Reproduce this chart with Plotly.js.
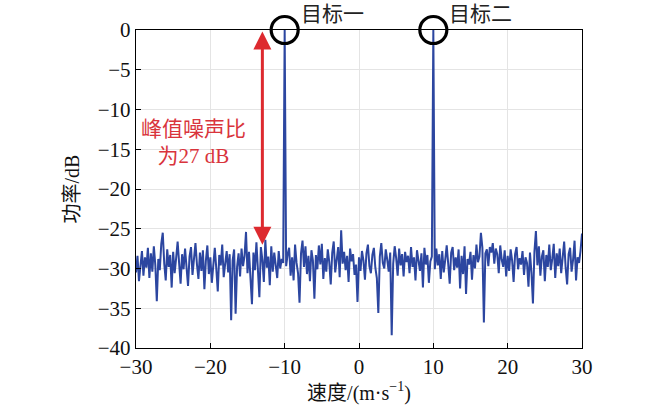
<!DOCTYPE html>
<html>
<head>
<meta charset="utf-8">
<script src="https://cdn.plot.ly/plotly-3.0.1.min.js"></script>
<style>
  html, body { margin: 0; padding: 0; background: #fff; }
  #chart { width: 650px; height: 410px; }
</style>
</head>
<body>
<div id="chart"></div>
<script>
// velocity axis: -30 .. 30 m/s, 0.2 m/s per bin
const velStart = -30;
const velStep = 0.2;

// power per bin (dB); targets at -10 and +10 m/s
const powerDb = [
  -30.5,-28.4,-31.6,-29.2,-27.8,-30.9,-28.6,-29.9,-27.4,-31.2,
  -28.1,-30.4,-27.2,-29.6,-34.1,-28.8,-30.2,-26.9,-25.5,-29.4,
  -31.5,-27.6,-29.8,-28.3,-32.4,-27.9,-30.6,-28.7,-26.6,-29.3,
  -31.9,-28.2,-30.1,-27.5,-29.7,-32.2,-28.5,-27.3,-30.8,-28.9,
  -26.8,-29.5,-31.3,-28.0,-30.3,-27.7,-32.6,-29.0,-27.1,-30.7,
  -28.6,-31.8,-29.1,-27.4,-30.0,-32.9,-28.3,-29.6,-27.0,-31.1,
  -29.4,-27.8,-30.5,-28.2,-36.5,-29.0,-27.6,-35.7,-29.8,-28.1,
  -31.0,-27.5,-29.7,-28.4,-25.4,-30.6,-27.9,-31.4,-34.5,-28.0,
  -30.2,-26.7,-29.5,-33.6,-27.3,-28.9,-31.7,-26.4,-29.9,-28.5,
  -32.1,-27.2,-30.4,-28.0,-29.6,-31.2,-27.8,-30.0,-28.8,-29.3,
  0,
  -29.7,-28.2,-27.4,-30.9,-28.6,-31.5,-27.0,-29.3,-30.6,
  -34.3,-28.1,-26.5,-29.8,-27.2,-30.7,-28.4,-31.6,-27.7,-29.0,
  -33.8,-28.3,-30.1,-27.1,-29.5,-26.9,-31.3,-28.7,-30.4,-27.6,
  -29.2,-32.0,-28.0,-26.6,-30.5,-28.8,-27.3,-31.1,-25.2,-29.4,
  -27.9,-30.2,-28.4,-31.7,-27.5,-29.1,-28.2,-30.8,-29.5,-34.2,
  -28.6,-30.3,-27.8,-29.0,-31.4,-28.1,-27.0,-29.7,-30.6,-28.3,
  -27.4,-29.9,-31.2,-35.6,-28.5,-26.8,-29.3,-30.0,-27.6,-28.9,
  -30.4,-28.0,-38.4,-29.4,-27.2,-28.7,-30.9,-27.5,-29.6,-28.2,
  -31.0,-27.9,-29.2,-28.4,-30.6,-27.3,-29.8,-28.6,-31.5,-27.7,
  -29.0,-30.3,-28.1,-32.4,-27.4,-29.5,-28.3,-31.8,-29.1,-28.5,
  0,
  -30.1,-27.5,-29.6,-28.2,-31.3,-27.8,-30.5,-28.9,-27.1,
  -29.4,-31.9,-28.0,-27.3,-30.2,-28.6,-29.9,-27.6,-32.5,-28.4,
  -30.7,-27.2,-33.2,-28.8,-29.5,-27.9,-31.4,-28.3,-30.0,-27.0,
  -29.2,-28.5,-25.5,-27.4,-36.8,-28.1,-27.6,-29.7,-27.3,-28.0,
  -26.8,-29.4,-27.5,-28.2,-30.6,-27.1,-28.9,-29.8,-27.7,-31.0,
  -28.4,-30.3,-27.6,-29.0,-31.7,-28.2,-27.3,-30.1,-28.7,-29.5,
  -27.8,-30.8,-28.6,-29.3,-32.3,-28.0,-30.5,-34.4,-27.9,-25.3,
  -29.6,-27.2,-30.9,-28.5,-27.7,-31.6,-28.3,-29.8,-27.0,-30.2,
  -28.8,-26.9,-31.2,-28.1,-29.7,-27.5,-30.6,-28.4,-26.6,-29.9,
  -32.0,-28.2,-27.4,-30.4,-28.9,-26.5,-31.5,-28.6,-29.3,-27.8,
  -25.6
];

// the two targets
const targetVel = [-10, 10];
const targetPow = [0, 0];
const targetNames = ["目标一", "目标二"];

// peak-to-noise marker
const pnrVel = -13;
const pnrTop = 0;
const pnrBottom = -27;
const pnrText = "峰值噪声比<br>为27 dB";

const velocity = powerDb.map((_, i) => +(velStart + i * velStep).toFixed(2));

const serif = "'Times New Roman', 'Liberation Serif', 'DejaVu Serif', 'Noto Sans CJK SC', serif";

const data = [{
    x: velocity,
    y: powerDb,
    type: "scatter",
    mode: "lines",
    line: {color: "#2c46a0", width: 2},
    hoverinfo: "skip"
}, {
    x: targetVel,
    y: targetPow,
    type: "scatter",
    mode: "markers",
    cliponaxis: false,
    marker: {symbol: "circle-open", size: 27, color: "#000", line: {width: 3.2, color: "#000"}},
    hoverinfo: "skip"
}];

const annotations = targetVel.map((v, i) => ({
    x: v, xref: "x",
    y: 1, yref: "paper",
    text: targetNames[i],
    showarrow: false,
    xanchor: "left", yanchor: "middle",
    xshift: 14, yshift: 16,
    font: {family: serif, size: 21, color: "#222"}
}));

annotations.push({
    x: pnrVel, y: pnrBottom, xref: "x", yref: "y",
    ax: pnrVel, ay: pnrTop, axref: "x", ayref: "y",
    text: "",
    showarrow: true,
    arrowhead: 2,
    arrowside: "end+start",
    arrowsize: 1.2,
    arrowwidth: 3,
    arrowcolor: "#dd2a2f"
});

annotations.push({
    x: -22.2, y: -14.2, xref: "x", yref: "y",
    text: pnrText,
    showarrow: false,
    align: "center",
    font: {family: serif, size: 21, color: "#d9343c"}
});

const layout = {
    width: 650,
    height: 410,
    paper_bgcolor: "#fff",
    plot_bgcolor: "#fff",
    showlegend: false,
    margin: {l: 135.5, r: 67.5, t: 30, b: 62, pad: 0},
    font: {family: serif, size: 21, color: "#111"},
    xaxis: {
        range: [-30, 30],
        tickvals: [-30, -20, -10, 0, 10, 20, 30],
        ticks: "inside",
        ticklen: 5,
        tickcolor: "#000",
        showline: true,
        linecolor: "#000",
        linewidth: 1.2,
        mirror: true,
        showgrid: true,
        gridcolor: "#e4e4e4",
        zeroline: false,
        tickfont: {family: serif, size: 21, color: "#111"},
        title: {text: "速度/(m·s<sup>−1</sup>)", font: {family: serif, size: 20, color: "#111"}, standoff: 2}
    },
    yaxis: {
        range: [-40, 0],
        tickvals: [-40, -35, -30, -25, -20, -15, -10, -5, 0],
        ticks: "inside",
        ticklen: 5,
        tickcolor: "#000",
        showline: true,
        linecolor: "#000",
        linewidth: 1.2,
        mirror: true,
        showgrid: true,
        gridcolor: "#e4e4e4",
        zeroline: false,
        tickfont: {family: serif, size: 21, color: "#111"},
        title: {text: "功率/dB", font: {family: serif, size: 20, color: "#111"}, standoff: 12}
    },
    annotations: annotations
};

Plotly.newPlot("chart", data, layout, {displayModeBar: false, staticPlot: true});
</script>
</body>
</html>
